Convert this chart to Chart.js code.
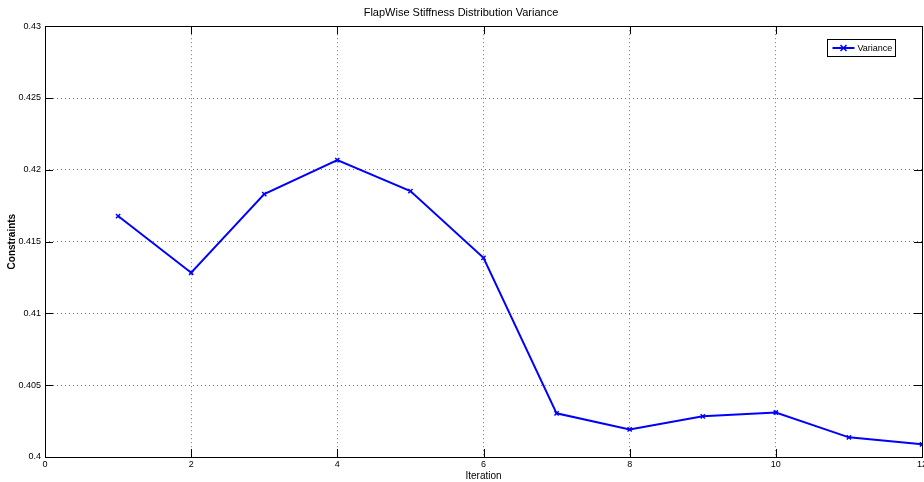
<!DOCTYPE html>
<html>
<head>
<meta charset="utf-8">
<script src="https://cdn.jsdelivr.net/npm/chart.js@4"></script>
<style>
	html, body { margin: 0; padding: 0; background: #fff; overflow: hidden; }
	#wrap { width: 924px; height: 482px; overflow: hidden; }
</style>
</head>
<body>
<div id="wrap"><canvas id="chart1" width="940" height="482"></canvas></div>
<script>
var iterations = [1, 2, 3, 4, 5, 6, 7, 8, 9, 10, 11, 12];
var variance = [0.41678, 0.41283, 0.41831, 0.42067, 0.41852, 0.41387, 0.40304, 0.40192, 0.40283, 0.40310, 0.40137, 0.40088];
var yTicks = [0.4, 0.405, 0.41, 0.415, 0.42, 0.425, 0.43];
var xTicks = [0, 2, 4, 6, 8, 10, 12];

var fontFamily = '"Liberation Sans", Arial, sans-serif';

// box around the axes + inward tick marks (matlab style)
var framePlugin = {
	id: 'frame',
	afterDatasetsDraw: function(chart) {
		var ctx = chart.ctx, a = chart.chartArea;
		var xs = chart.scales.x, ys = chart.scales.y;
		ctx.save();
		ctx.strokeStyle = '#000';
		ctx.lineWidth = 1;
		ctx.strokeRect(Math.round(a.left) + 0.5, Math.round(a.top) + 0.5, Math.round(a.right - a.left), Math.round(a.bottom - a.top));
		ctx.beginPath();
		xTicks.forEach(function(v) {
			var px = Math.round(xs.getPixelForValue(v)) + 0.5;
			ctx.moveTo(px, a.bottom); ctx.lineTo(px, a.bottom - 8);
			ctx.moveTo(px, a.top); ctx.lineTo(px, a.top + 8);
		});
		yTicks.forEach(function(v) {
			var py = Math.round(ys.getPixelForValue(v)) + 0.5;
			ctx.moveTo(a.left, py); ctx.lineTo(a.left + 8, py);
			ctx.moveTo(a.right, py); ctx.lineTo(a.right - 8, py);
		});
		ctx.stroke();

		// legend box
		var lx = 827.5, ly = 39.5, lw = 68, lh = 17;
		ctx.fillStyle = '#fff';
		ctx.fillRect(lx, ly, lw, lh);
		ctx.strokeRect(lx, ly, lw, lh);
		ctx.strokeStyle = '#0000ff';
		ctx.lineWidth = 2;
		ctx.beginPath();
		ctx.moveTo(lx + 5, ly + 8.5); ctx.lineTo(lx + 27, ly + 8.5);
		ctx.stroke();
		ctx.lineWidth = 1.5;
		ctx.beginPath();
		ctx.moveTo(lx + 13, ly + 5.5); ctx.lineTo(lx + 19, ly + 11.5);
		ctx.moveTo(lx + 19, ly + 5.5); ctx.lineTo(lx + 13, ly + 11.5);
		ctx.stroke();
		ctx.fillStyle = '#000';
		ctx.font = '9px ' + fontFamily;
		ctx.textBaseline = 'middle';
		ctx.fillText('Variance', lx + 30, ly + 9);
		ctx.restore();
	}
};

var ctx = document.getElementById('chart1').getContext('2d');
var chart1 = new Chart(ctx, {
	type: 'line',
	data: {
		datasets: [{
			label: 'Variance',
			data: iterations.map(function(x, i) { return { x: x, y: variance[i] }; }),
			borderColor: '#0000ff',
			backgroundColor: '#0000ff',
			borderWidth: 2,
			pointStyle: 'crossRot',
			pointRadius: 3,
			pointBorderWidth: 1.5,
			pointBorderColor: '#0000ff',
			tension: 0
		}]
	},
	plugins: [framePlugin],
	options: {
		responsive: false,
		animation: false,
		layout: { padding: { left: 0, right: 18, top: 0, bottom: 0 } },
		plugins: {
			legend: { display: false },
			tooltip: { enabled: false },
			title: {
				display: true,
				text: 'FlapWise Stiffness Distribution Variance',
				color: '#000',
				font: { family: fontFamily, size: 11, weight: 'normal', lineHeight: 1.2 },
				padding: { top: 6, bottom: 7 }
			}
		},
		scales: {
			x: {
				type: 'linear',
				min: 0,
				max: 12,
				afterBuildTicks: function(scale) { scale.ticks = xTicks.map(function(v) { return { value: v }; }); },
				afterFit: function(scale) { scale.height = 25; },
				border: { display: false, dash: [1, 3] },
				grid: { color: '#777', drawTicks: false, lineWidth: 1 },
				ticks: { color: '#000', padding: 2, maxRotation: 0, font: { family: fontFamily, size: 9 } },
				title: { display: true, text: 'Iteration', color: '#000', padding: 0, font: { family: fontFamily, size: 10 } }
			},
			y: {
				min: 0.4,
				max: 0.43,
				afterBuildTicks: function(scale) { scale.ticks = yTicks.map(function(v) { return { value: v }; }); },
				afterFit: function(scale) { scale.width = 45; },
				border: { display: false, dash: [1, 3] },
				grid: { color: '#777', drawTicks: false, lineWidth: 1 },
				ticks: {
					color: '#000', padding: 4, font: { family: fontFamily, size: 9 },
					callback: function(v) { return String(parseFloat(v.toFixed(3))); }
				},
				title: { display: true, text: 'Constraints', color: '#000', padding: { top: 6, bottom: 0 }, font: { family: fontFamily, size: 10, weight: 'bold' } }
			}
		}
	}
});
</script>
</body>
</html>
